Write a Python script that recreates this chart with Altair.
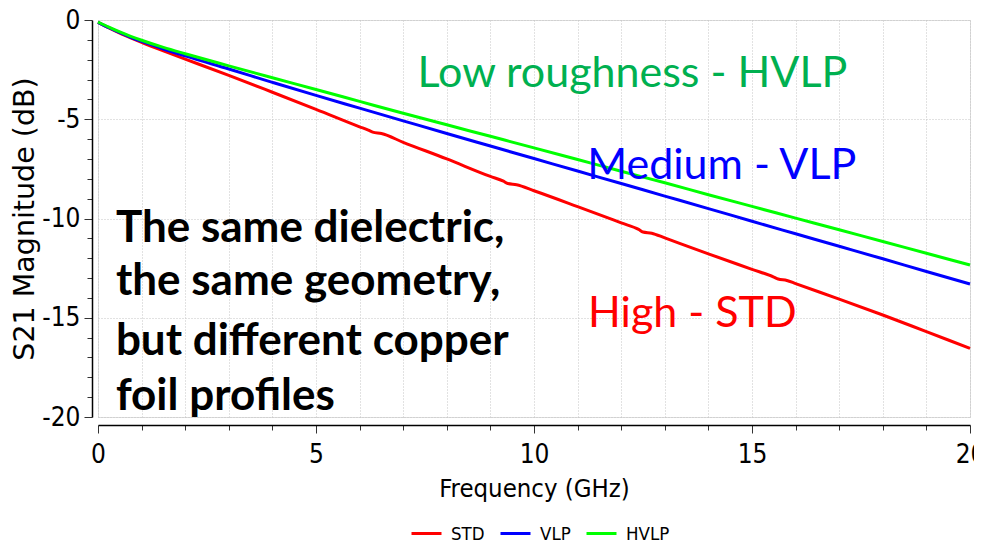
import altair as alt
import pandas as pd

# ---- data ----
freq_std = [0, 0.25, 0.5, 0.75, 1, 1.5, 2, 3, 4, 5, 6, 6.2, 6.3, 6.5, 7, 8, 9, 9.3, 9.4, 9.6,
            10, 11, 12, 12.4, 12.5, 12.7, 13, 14, 15, 15.5, 15.6, 15.8, 16, 17, 18, 19, 20]
std = [-0.12, -0.40, -0.66, -0.90, -1.13, -1.56, -1.97, -2.79, -3.64, -4.50, -5.38, -5.55, -5.65,
       -5.72, -6.16, -7.00, -7.88, -8.12, -8.24, -8.30, -8.60, -9.40, -10.22, -10.55, -10.68, -10.74,
       -10.98, -11.78, -12.56, -12.95, -13.05, -13.12, -13.28, -14.06, -14.86, -15.70, -16.54]

freq = [0, 0.25, 0.5, 0.75, 1, 1.5, 2, 3, 4, 5, 6, 7, 8, 9, 10, 11, 12, 13, 14, 15, 16, 17, 18, 19, 20]
vlp = [-0.12, -0.39, -0.64, -0.87, -1.08, -1.46, -1.81, -2.47, -3.14, -3.80, -4.44, -5.08, -5.72,
       -6.35, -6.98, -7.61, -8.24, -8.87, -9.50, -10.14, -10.77, -11.40, -12.03, -12.67, -13.30]
hvlp = [-0.10, -0.36, -0.60, -0.82, -1.02, -1.38, -1.70, -2.31, -2.91, -3.50, -4.10, -4.70, -5.28,
        -5.86, -6.44, -7.03, -7.62, -8.20, -8.80, -9.39, -9.98, -10.57, -11.16, -11.75, -12.34]

series_names = ["STD", "VLP", "HVLP"]
series_colors = ["#ff0000", "#0000ff", "#00ff00"]

x_ticks = list(range(0, 21))
y_ticks = list(range(-20, 1))

notes_text = ["Low roughness - HVLP", "Medium - VLP", "High - STD"]
notes_f = [7.33, 11.22, 11.24]
notes_v = [-3.36, -8.03, -15.45]
notes_color = ["#00b050", "#0000ff", "#ff0000"]

bold_text = ["The same dielectric,", "the same geometry,", "but different copper", "foil profiles"]
bold_f = [0.41, 0.41, 0.41, 0.41]
bold_v = [-11.17, -13.85, -16.88, -19.65]

# ---- tables ----
rows = []
for f, v in zip(freq_std, std):
    rows.append({"f": f, "v": v, "s": "STD"})
for f, v in zip(freq, vlp):
    rows.append({"f": f, "v": v, "s": "VLP"})
for f, v in zip(freq, hvlp):
    rows.append({"f": f, "v": v, "s": "HVLP"})
df = pd.DataFrame(rows)

notes = pd.DataFrame({"t": notes_text, "f": notes_f, "v": notes_v, "c": notes_color})
bold = pd.DataFrame({"t": bold_text, "f": bold_f, "v": bold_v})

AX_FONT = "DejaVu Sans Condensed"
x_scale = alt.Scale(domain=[0, 20], nice=False, zero=False)
y_scale = alt.Scale(domain=[-20, 0], nice=False, zero=False)
major = "datum.value % 5 === 0"

x_axis = alt.Axis(
    title="Frequency (GHz)", values=x_ticks,
    labelExpr=f"{major} ? toString(datum.value) : ''",
    labelFlush=False, labelOverlap=False,
    tickSize={"condition": {"test": major, "value": 8}, "value": 5},
    offset=8, grid=True, gridDash=[1, 2], gridColor="#c4c4c4",
    labelFont=AX_FONT, labelFontSize=26, labelPadding=8, labelColor="black",
    titleFont=AX_FONT, titleFontSize=25.5, titleFontWeight="normal", titleColor="black", titlePadding=9,
    domainColor="black", domainWidth=1.5, tickColor="#333333",
)
y_axis = alt.Axis(
    title="S21 Magnitude (dB)", values=y_ticks,
    labelExpr=f"{major} ? toString(datum.value) : ''",
    labelOverlap=False,
    tickSize={"condition": {"test": major, "value": 8}, "value": 5},
    offset=6, grid=True, gridDash=[1, 2], gridColor="#c4c4c4",
    gridOpacity={"condition": {"test": major, "value": 1}, "value": 0},
    labelFont=AX_FONT, labelFontSize=26, labelPadding=4, labelColor="black",
    titleFont="DejaVu Sans", titleFontSize=28.5, titleFontWeight="normal", titleColor="black", titlePadding=2,
    domainColor="black", domainWidth=1.5, tickColor="#333333",
)

X = alt.X("f:Q", scale=x_scale, axis=x_axis)
Y = alt.Y("v:Q", scale=y_scale, axis=y_axis)

lines = alt.Chart(df).mark_line(strokeWidth=3, interpolate="monotone").encode(
    x=X,
    y=Y,
    color=alt.Color(
        "s:N",
        scale=alt.Scale(domain=series_names, range=series_colors),
        sort=series_names,
        legend=alt.Legend(
            title=None, orient="none", direction="horizontal", legendX=312, legendY=497,
            symbolType="stroke", symbolSize=900, symbolStrokeWidth=3,
            labelFont=AX_FONT, labelFontSize=18.5, labelColor="black",
            labelOffset=8, columnPadding=9, padding=0,
        ),
    ),
)

note_layer = alt.Chart(notes).mark_text(
    align="left", baseline="alphabetic", font="Lato", fontSize=43
).encode(
    x=X,
    y=Y,
    text="t:N",
    color=alt.Color("c:N", scale=None, legend=None),
)

bold_layer = alt.Chart(bold).mark_text(
    align="left", baseline="alphabetic", font="Lato", fontSize=44, fontWeight="bold", color="black"
).encode(
    x=X,
    y=Y,
    text="t:N",
)

chart = alt.layer(lines, note_layer, bold_layer).properties(
    width=872, height=397,
    autosize=alt.AutoSizeParams(type="none"),
    padding={"left": 90, "top": 12, "right": 4, "bottom": 130},
).configure_view(stroke=None).configure(background="white")

chart.save("out.html", embed_options={"renderer": "svg", "actions": False})
